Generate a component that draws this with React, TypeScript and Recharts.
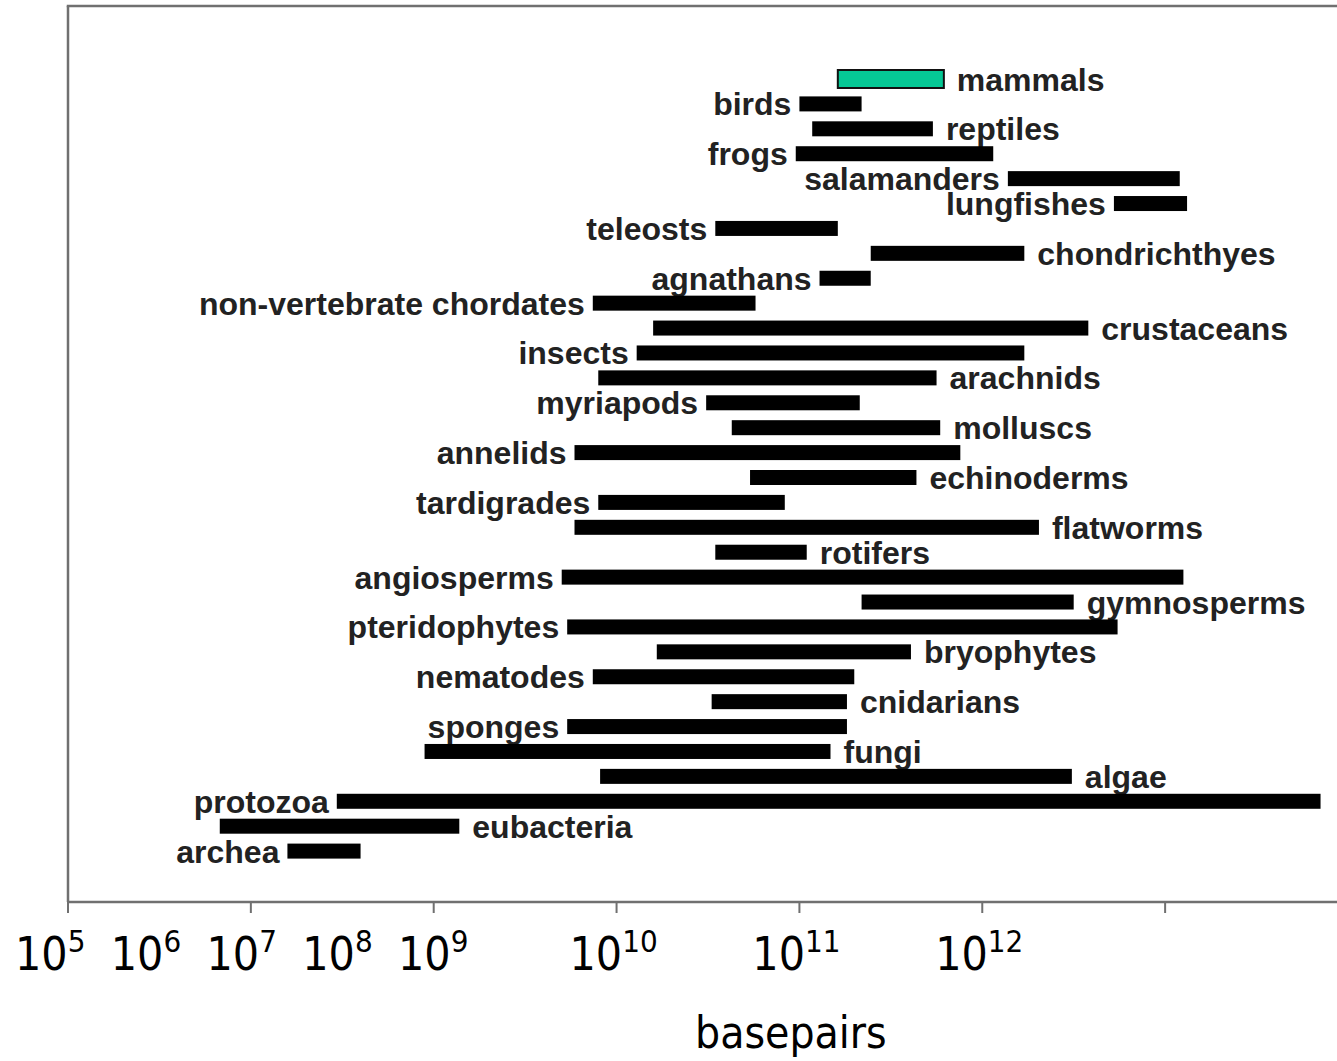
import React from "react";
import { BarChart, Bar, XAxis, YAxis } from "recharts";

const groups = [
  "mammals", "birds", "reptiles", "frogs", "salamanders", "lungfishes", "teleosts", "chondrichthyes",
  "agnathans", "non-vertebrate chordates", "crustaceans", "insects", "arachnids", "myriapods", "molluscs",
  "annelids", "echinoderms", "tardigrades", "flatworms", "rotifers", "angiosperms", "gymnosperms",
  "pteridophytes", "bryophytes", "nematodes", "cnidarians", "sponges", "fungi", "algae", "protozoa",
  "eubacteria", "archea",
];

// log10(basepairs), smallest and largest genome of each group
const minExp = [
  11.21, 11.0, 11.07, 10.98, 12.14, 12.72, 10.54, 11.39, 11.11, 9.87, 10.2, 10.11, 9.9, 10.49, 10.63, 9.77,
  10.73, 9.9, 9.77, 10.54, 9.7, 11.34, 9.73, 10.22, 9.87, 10.52, 9.73, 8.95, 9.91, 8.47, 7.83, 8.2,
];
const maxExp = [
  11.79, 11.34, 11.73, 12.06, 13.08, 13.12, 11.21, 12.23, 11.39, 10.76, 12.58, 12.23, 11.75, 11.33, 11.77, 11.88,
  11.64, 10.92, 12.31, 11.04, 13.1, 12.5, 12.74, 11.61, 11.3, 11.26, 11.26, 11.17, 12.49, 13.85, 9.14, 8.6,
];
const labelSide = [
  "right", "left", "right", "left", "left", "left", "left", "right", "left", "left", "right", "left", "right",
  "left", "right", "left", "right", "left", "right", "right", "left", "right", "left", "right", "left", "right",
  "left", "right", "right", "left", "right", "left",
];
const highlighted = "mammals";

const axisTicks = [7, 8, 9, 10, 11, 12, 13];
const crowdedExponents = ["5", "6", "7", "8", "9"];
const spacedExponents = ["10", "11", "12"];

const data = groups.map((name, i) => ({
  name,
  range: [minExp[i], maxExp[i]],
  side: labelSide[i],
}));

const W = 1337;
const H = 1061;
const PLOT_LEFT = 68;
const PLOT_TOP = 6;
const DOMAIN_MAX = 13.94;
const decadePx = (W - PLOT_LEFT) / (DOMAIN_MAX - 7);
const axisFont = "'DejaVu Sans Condensed', 'Liberation Sans', sans-serif";
const labelFont = "'Liberation Sans', Arial, Helvetica, sans-serif";
const frame = "#707070";

const RangeBar = (props: any) => {
  const { x, y, width, height, payload } = props;
  const isHi = payload.name === highlighted;
  const cy = y + height / 2;
  const h = isHi ? 18 : height;
  const left = payload.side === "left";
  return (
    <g>
      <rect
        x={x}
        y={cy - h / 2}
        width={width}
        height={h}
        fill={isHi ? "#05c895" : "#000"}
        stroke={isHi ? "#111" : "none"}
        strokeWidth={2}
      />
      <text
        x={left ? x - 8 : x + width + 13}
        y={cy + 11.5}
        textAnchor={left ? "end" : "start"}
        fontFamily={labelFont}
        fontWeight={700}
        fontSize={32}
        fill="#222"
      >
        {payload.name}
      </text>
    </g>
  );
};

const NoLabel = () => <g />;

const Power = ({ x, exp, anchor }: { x: number; exp: string; anchor: "start" | "middle" }) => (
  <text x={x} y={970} textAnchor={anchor} fontFamily={axisFont} fill="#000">
    <tspan fontSize={46}>10</tspan>
    <tspan fontSize={31} dy={-18}>{exp}</tspan>
  </text>
);

const App: React.FC = () => {
  return (
    <div style={{ position: "relative", width: W, height: H }}>
      <style>{`html,body{margin:0;padding:0;overflow:hidden;background:#fff}`}</style>
      <BarChart
        width={W}
        height={H}
        data={data}
        layout="vertical"
        margin={{ top: PLOT_TOP, right: 0, left: 8, bottom: 129 }}
        barSize={15}
      >
        <XAxis
          type="number"
          domain={[7, DOMAIN_MAX]}
          ticks={axisTicks}
          tick={NoLabel}
          tickSize={11}
          height={30}
          axisLine={{ stroke: frame, strokeWidth: 2.5 }}
          tickLine={{ stroke: frame, strokeWidth: 2 }}
          allowDataOverflow
        />
        <YAxis
          type="category"
          dataKey="name"
          width={60}
          tick={false}
          tickLine={false}
          axisLine={{ stroke: frame, strokeWidth: 2.5 }}
          padding={{ top: 60.5, bottom: 38.5 }}
        />
        <Bar dataKey="range" shape={RangeBar} isAnimationActive={false} />
      </BarChart>
      <svg width={W} height={H} style={{ position: "absolute", left: 0, top: 0, pointerEvents: "none" }}>
        <line x1={PLOT_LEFT - 1.25} x2={W} y1={PLOT_TOP} y2={PLOT_TOP} stroke={frame} strokeWidth={2.5} />
        {crowdedExponents.map((e, i) => (
          <Power key={e} x={15 + i * 95.75} exp={e} anchor="start" />
        ))}
        {spacedExponents.map((e) => (
          <Power key={e} x={PLOT_LEFT + (Number(e) - 7) * decadePx - 3} exp={e} anchor="middle" />
        ))}
        <text x={695} y={1048} fontFamily={axisFont} fontSize={44} fill="#000">
          basepairs
        </text>
      </svg>
    </div>
  );
};

export default App;
